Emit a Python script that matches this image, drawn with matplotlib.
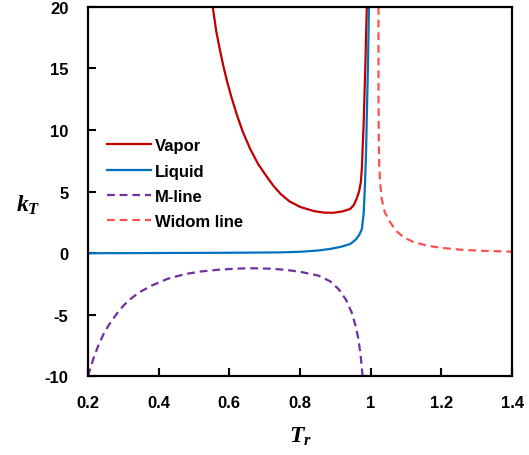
import matplotlib
matplotlib.use("Agg")
import matplotlib.pyplot as plt

plt.rcParams['font.family'] = ['Liberation Sans', 'DejaVu Sans']
plt.rcParams['font.weight'] = 'bold'
plt.rcParams['axes.unicode_minus'] = False
plt.rcParams['mathtext.fontset'] = 'custom'
plt.rcParams['mathtext.it'] = 'Liberation Serif:italic:bold'
plt.rcParams['mathtext.rm'] = 'Liberation Serif:bold'

# values
vapor_tr = [0.553, 0.563, 0.574, 0.583, 0.593, 0.605, 0.621, 0.638, 0.659, 0.682,
            0.706, 0.725, 0.745, 0.770, 0.800, 0.840, 0.870, 0.894, 0.920, 0.942,
            0.952, 0.960, 0.967, 0.972, 0.975, 0.977, 0.980, 0.982, 0.985, 0.987,
            0.989]
vapor_k = [20.0, 18.0, 16.4, 15.2, 14.0, 12.75, 11.25, 9.85, 8.45, 7.2,
           6.2, 5.45, 4.8, 4.2, 3.75, 3.4, 3.28, 3.27, 3.38, 3.58,
           3.9, 4.4, 5.0, 5.75, 6.9, 8.45, 10.5, 12.5, 15.5, 17.9,
           20.0]

liquid_tr = [0.2, 0.4, 0.6, 0.743, 0.80, 0.85, 0.885, 0.915, 0.942, 0.958,
             0.968, 0.975, 0.980, 0.984, 0.987, 0.989, 0.992, 0.995]
liquid_k = [-0.02, 0.0, 0.02, 0.05, 0.1, 0.2, 0.33, 0.5, 0.73, 1.1,
            1.5, 1.95, 3.2, 5.75, 8.45, 11.2, 15.0, 20.0]

mline_tr = [0.2, 0.215, 0.229, 0.247, 0.267, 0.290, 0.314, 0.345, 0.380, 0.425,
            0.475, 0.520, 0.569, 0.620, 0.663, 0.710, 0.758, 0.805, 0.852, 0.885,
            0.909, 0.930, 0.946, 0.958, 0.965, 0.971, 0.976, 0.977]
mline_k = [-10.0, -8.6, -7.53, -6.4, -5.5, -4.6, -3.87, -3.2, -2.65, -2.1,
           -1.71, -1.5, -1.36, -1.27, -1.24, -1.27, -1.36, -1.55, -1.84, -2.3,
           -2.93, -3.8, -4.82, -6.0, -6.99, -8.2, -9.7, -10.0]

widom_tr = [1.022, 1.022, 1.023, 1.024, 1.027, 1.031, 1.040, 1.055, 1.072, 1.092,
            1.120, 1.159, 1.200, 1.253, 1.320, 1.399]
widom_k = [20.0, 12.5, 9.0, 7.1, 5.6, 4.4, 3.3, 2.5, 1.8, 1.3,
           0.9, 0.6, 0.42, 0.27, 0.17, 0.11]

fig = plt.figure(figsize=(5.29, 4.56), dpi=100)
ax = fig.add_axes([0.1664, 0.1732, 0.8016, 0.8093])

ax.plot(vapor_tr, vapor_k, color='#C00000', lw=1.6, label='Vapor')
ax.plot(liquid_tr, liquid_k, color='#0070C0', lw=1.6, label='Liquid')
ax.plot(mline_tr, mline_k, color='#7030A0', lw=1.6, ls=(0, (3.5, 2.2)), label='M-line')
ax.plot(widom_tr, widom_k, color='#FF5050', lw=1.6, ls=(0, (3.5, 2.2)), label='Widom line')

ax.set_xlim(0.2, 1.4)
ax.set_ylim(-10, 20)
ax.set_xticks([0.2, 0.4, 0.6, 0.8, 1.0, 1.2, 1.4])
ax.set_xticklabels(['0.2', '0.4', '0.6', '0.8', '1', '1.2', '1.4'])
ax.set_yticks([-10, -5, 0, 5, 10, 15, 20])
ax.tick_params(direction='in', length=6, width=1.5, labelsize=12, pad=14)
for s in ax.spines.values():
    s.set_linewidth(1.6)

ax.set_xlabel('$T_r$', fontsize=17, va='center')
ax.xaxis.set_label_coords(0.5, -0.163)
ax.set_ylabel('$k_T$', fontsize=17, rotation=0, va='center', ha='center')
ax.yaxis.set_label_coords(-0.142, 0.466)

leg = ax.legend(loc='upper left', bbox_to_anchor=(0.01, 0.685), frameon=False,
                handlelength=2.6, handletextpad=0.25, labelspacing=0.62,
                prop={'weight': 'bold', 'size': 12})

fig.savefig('out.png', dpi=100)
